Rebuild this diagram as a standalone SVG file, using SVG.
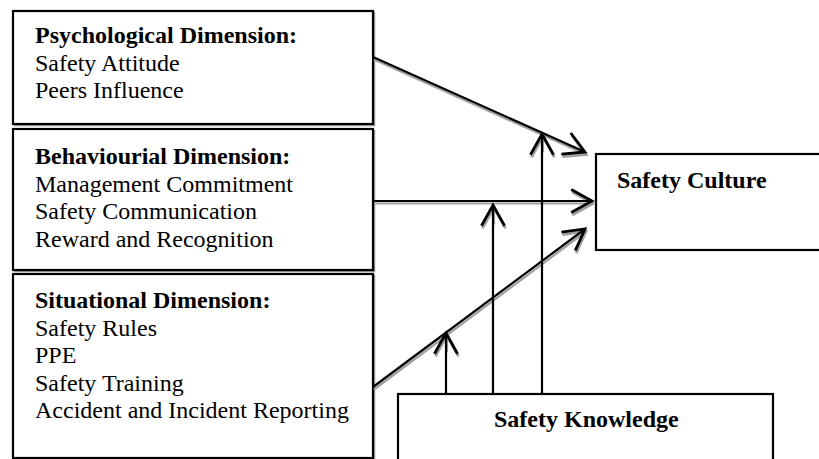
<svg xmlns="http://www.w3.org/2000/svg" width="819" height="459" viewBox="0 0 819 459">
  <style>
    .box { fill: #ffffff; stroke: #000000; stroke-width: 2.2; }
    .boxsh { fill: none; stroke: #999999; stroke-width: 1.5; }
    .t { font-family: "Liberation Serif", "Times New Roman", serif; font-size: 24px; fill: #000000; }
    .b { font-weight: bold; }
    .ln { fill: none; stroke: #000000; stroke-width: 2.2; }
    .sh { fill: none; stroke: #a0a0a0; stroke-width: 2.2; }
  </style>
  <defs>
    <marker id="ah" markerUnits="userSpaceOnUse" markerWidth="30" markerHeight="30" viewBox="-22 -12 26 24" refX="0" refY="0" orient="auto">
      <path d="M -18 -10 L 0 0 L -18 10" fill="none" stroke="#000000" stroke-width="2.4"/>
    </marker>
    <marker id="ahs" markerUnits="userSpaceOnUse" markerWidth="30" markerHeight="30" viewBox="-22 -12 26 24" refX="0" refY="0" orient="auto">
      <path d="M -18 -10 L 0 0 L -18 10" fill="none" stroke="#a0a0a0" stroke-width="2.4"/>
    </marker>
  </defs>

  <rect width="819" height="459" fill="#ffffff"/>

  <g id="psychological">
    <rect class="boxsh" x="14.5" y="12.5" width="360" height="113"/>
    <rect class="box" x="13" y="11" width="360" height="113"/>
    <text class="t b" x="35" y="43">Psychological Dimension:</text>
    <text class="t" x="35" y="71">Safety Attitude</text>
    <text class="t" x="35" y="98">Peers Influence</text>
  </g>

  <g id="behavioural">
    <rect class="boxsh" x="14.5" y="130.5" width="360" height="141"/>
    <rect class="box" x="13" y="129" width="360" height="141"/>
    <text class="t b" x="35" y="164">Behaviourial Dimension:</text>
    <text class="t" x="35" y="191.5">Management Commitment</text>
    <text class="t" x="35" y="219">Safety Communication</text>
    <text class="t" x="35" y="246.5">Reward and Recognition</text>
  </g>

  <g id="situational">
    <rect class="boxsh" x="14.5" y="275.5" width="360" height="184"/>
    <rect class="box" x="13" y="274" width="360" height="184"/>
    <text class="t b" x="35" y="308">Situational Dimension:</text>
    <text class="t" x="35" y="336">Safety Rules</text>
    <text class="t" x="35" y="363">PPE</text>
    <text class="t" x="35" y="391">Safety Training</text>
    <text class="t" x="35" y="418">Accident and Incident Reporting</text>
  </g>

  <g id="safety-culture">
    <rect class="box" x="596" y="154" width="240" height="96"/>
    <text class="t b" x="617" y="188">Safety Culture</text>
  </g>

  <g id="safety-knowledge">
    <rect class="box" x="398" y="394" width="375" height="80"/>
    <text class="t b" x="494" y="427">Safety Knowledge</text>
  </g>

  <g id="connectors">
    <g transform="translate(1,2.5)">
      <path class="sh" d="M 373 57 L 585 152" marker-end="url(#ahs)"/>
      <path class="sh" d="M 373 201 L 592 201" marker-end="url(#ahs)"/>
      <path class="sh" d="M 373 387 L 585 229" marker-end="url(#ahs)"/>
      <path class="sh" d="M 542 150 L 542 134" marker-end="url(#ahs)"/>
      <path class="sh" d="M 493 222 L 493 205" marker-end="url(#ahs)"/>
      <path class="sh" d="M 446 350 L 446 333" marker-end="url(#ahs)"/>
    </g>
    <path class="ln" d="M 373 57 L 585 152" marker-end="url(#ah)"/>
    <path class="ln" d="M 373 201 L 592 201" marker-end="url(#ah)"/>
    <path class="ln" d="M 373 387 L 585 229" marker-end="url(#ah)"/>
    <path class="ln" d="M 542 394 L 542 134" marker-end="url(#ah)"/>
    <path class="ln" d="M 493 394 L 493 205" marker-end="url(#ah)"/>
    <path class="ln" d="M 446 394 L 446 333" marker-end="url(#ah)"/>
  </g>
</svg>
